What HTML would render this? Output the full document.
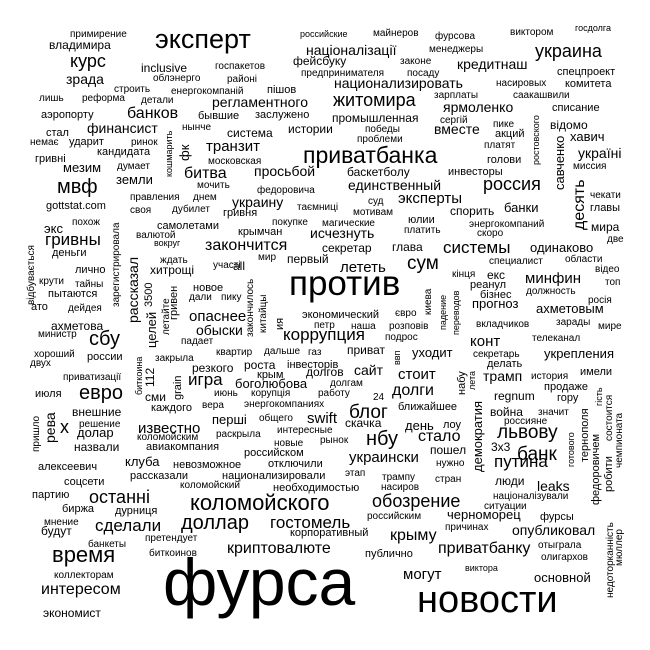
<!DOCTYPE html>
<html><head><meta charset="utf-8"><style>
html,body{margin:0;padding:0;background:#fff;}
svg{display:block;}
text{font-family:"Liberation Sans",Arial,sans-serif;fill:#000;}
</style></head><body>
<svg width="650" height="650" xmlns="http://www.w3.org/2000/svg">
<g>
<text x="70" y="37" font-size="10">примирение</text>
<text x="49" y="49" font-size="12">владимира</text>
<text x="155" y="48" font-size="27">эксперт</text>
<text x="70" y="67" font-size="18">курс</text>
<text x="141" y="72" font-size="12">inclusive</text>
<text x="215" y="69" font-size="10">госпакетов</text>
<text x="153" y="81" font-size="10">облэнерго</text>
<text x="227" y="82" font-size="10">районі</text>
<text x="66" y="84" font-size="14">зрада</text>
<text x="114" y="92" font-size="10">строить</text>
<text x="171" y="94" font-size="10">енергокомпаній</text>
<text x="267" y="93" font-size="11">пішов</text>
<text x="39" y="101" font-size="10">лишь</text>
<text x="82" y="101" font-size="10">реформа</text>
<text x="141" y="103" font-size="10">детали</text>
<text x="212" y="107" font-size="14">регламентного</text>
<text x="41" y="118" font-size="11">аэропорту</text>
<text x="127" y="118" font-size="16">банков</text>
<text x="198" y="119" font-size="11">бывшие</text>
<text x="255" y="118" font-size="11">заслужено</text>
<text x="46" y="136" font-size="11">стал</text>
<text x="87" y="133" font-size="14">финансист</text>
<text x="182" y="130" font-size="10">нынче</text>
<text x="227" y="137" font-size="12">система</text>
<text x="288" y="133" font-size="12">истории</text>
<text x="30" y="145" font-size="10">немає</text>
<text x="69" y="145" font-size="11">ударит</text>
<text x="131" y="145" font-size="10">ринок</text>
<text transform="translate(172,177) rotate(-90)" font-size="9">кошмарить</text>
<text transform="translate(189,161) rotate(-90)" font-size="13">фк</text>
<text x="206" y="151" font-size="15">транзит</text>
<text x="35" y="162" font-size="11">гривні</text>
<text x="97" y="155" font-size="11">кандидата</text>
<text x="208" y="164" font-size="10">московская</text>
<text x="303" y="163" font-size="23">приватбанка</text>
<text x="63" y="172" font-size="13">мезим</text>
<text x="117" y="169" font-size="10">думает</text>
<text x="184" y="178" font-size="16">битва</text>
<text x="254" y="176" font-size="14">просьбой</text>
<text x="57" y="193" font-size="20">мвф</text>
<text x="116" y="184" font-size="13">земли</text>
<text x="197" y="188" font-size="10">мочить</text>
<text x="257" y="193" font-size="10">федоровича</text>
<text x="130" y="200" font-size="10">правления</text>
<text x="193" y="200" font-size="10">днем</text>
<text x="232" y="207" font-size="14">украину</text>
<text x="46" y="209" font-size="11">gottstat.com</text>
<text x="130" y="213" font-size="10">своя</text>
<text x="172" y="212" font-size="10">дубилет</text>
<text x="223" y="216" font-size="11">гривня</text>
<text x="297" y="210" font-size="10">таємниці</text>
<text x="44" y="233" font-size="13">экс</text>
<text x="72" y="225" font-size="10">похож</text>
<text x="157" y="229" font-size="11">самолетами</text>
<text x="272" y="225" font-size="10">покупке</text>
<text x="322" y="226" font-size="10">магические</text>
<text x="45" y="245" font-size="17">гривны</text>
<text x="136" y="238" font-size="10">валютой</text>
<text x="238" y="235" font-size="11">крымчан</text>
<text x="310" y="238" font-size="14">исчезнуть</text>
<text x="154" y="246" font-size="9">вокруг</text>
<text x="205" y="250" font-size="16">закончится</text>
<text x="52" y="256" font-size="11">деньги</text>
<text x="160" y="263" font-size="10">ждать</text>
<text x="258" y="260" font-size="10">мир</text>
<text x="287" y="263" font-size="12">первый</text>
<text x="322" y="252" font-size="12">секретар</text>
<text x="75" y="273" font-size="11">лично</text>
<text x="150" y="274" font-size="12">хитрощі</text>
<text x="213" y="268" font-size="10">участі</text>
<text x="233" y="270" font-size="12">all</text>
<text x="39" y="284" font-size="10">крути</text>
<text x="75" y="287" font-size="10">тайны</text>
<text x="48" y="297" font-size="11">пытаются</text>
<text x="31" y="310" font-size="11">ато</text>
<text x="68" y="311" font-size="10">дейдея</text>
<text x="193" y="291" font-size="11">новое</text>
<text x="189" y="300" font-size="10">дали</text>
<text x="221" y="300" font-size="10">пику</text>
<text x="189" y="321" font-size="15">опаснее</text>
<text transform="translate(34,305) rotate(-90)" font-size="10">відбувається</text>
<text transform="translate(119,307) rotate(-90)" font-size="10">зарегистрировала</text>
<text transform="translate(138,323) rotate(-90)" font-size="14">рассказал</text>
<text transform="translate(152,307) rotate(-90)" font-size="11">3500</text>
<text transform="translate(156,348) rotate(-90)" font-size="13">целей</text>
<text transform="translate(169,335) rotate(-90)" font-size="10">летайте</text>
<text transform="translate(177,320) rotate(-90)" font-size="11">гривен</text>
<text transform="translate(253,337) rotate(-90)" font-size="10">закончилось</text>
<text transform="translate(266,333) rotate(-90)" font-size="10">китайцы</text>
<text transform="translate(283,330) rotate(-90)" font-size="11">ия</text>
<text x="289" y="295" font-size="35">против</text>

<text x="300" y="37" font-size="9">российские</text>
<text x="373" y="36" font-size="10">майнеров</text>
<text x="435" y="39" font-size="10">фурсова</text>
<text x="510" y="35" font-size="10">виктором</text>
<text x="575" y="31" font-size="9">госдолга</text>
<text x="306" y="55" font-size="14">націоналізації</text>
<text x="429" y="52" font-size="10">менеджеры</text>
<text x="535" y="57" font-size="18">украина</text>
<text x="293" y="65" font-size="12">фейсбуку</text>
<text x="400" y="64" font-size="10">законе</text>
<text x="457" y="69" font-size="14">кредитнаш</text>
<text x="301" y="76" font-size="10">предпринимателя</text>
<text x="407" y="76" font-size="10">посаду</text>
<text x="557" y="75" font-size="11">спецпроект</text>
<text x="334" y="88" font-size="14">национализировать</text>
<text x="496" y="86" font-size="10">насировых</text>
<text x="565" y="87" font-size="11">комитета</text>
<text x="333" y="106" font-size="18">житомира</text>
<text x="434" y="98" font-size="10">зарплаты</text>
<text x="513" y="98" font-size="10">саакашвили</text>
<text x="443" y="112" font-size="14">ярмоленко</text>
<text x="552" y="111" font-size="11">списание</text>
<text x="332" y="122" font-size="12">промышленная</text>
<text x="440" y="123" font-size="10">сергій</text>
<text x="493" y="127" font-size="10">пике</text>
<text transform="translate(539,165) rotate(-90)" font-size="9">ростовского</text>
<text x="550" y="129" font-size="12">відомо</text>
<text x="365" y="132" font-size="10">победы</text>
<text x="434" y="134" font-size="14">вместе</text>
<text x="495" y="137" font-size="11">акций</text>
<text x="357" y="142" font-size="10">проблеми</text>
<text x="570" y="141" font-size="13">хавич</text>
<text x="484" y="148" font-size="10">платят</text>
<text x="578" y="158" font-size="14">україні</text>
<text x="487" y="163" font-size="11">голови</text>
<text transform="translate(564,190) rotate(-90)" font-size="13">савченко</text>
<text x="573" y="169" font-size="10">миссия</text>
<text x="347" y="176" font-size="12">баскетболу</text>
<text x="448" y="175" font-size="11">инвесторы</text>
<text x="348" y="190" font-size="14">единственный</text>
<text x="483" y="190" font-size="18">россия</text>
<text transform="translate(584,230) rotate(-90)" font-size="16">десять</text>
<text x="590" y="198" font-size="10">чекати</text>
<text x="368" y="204" font-size="10">суд</text>
<text x="398" y="203" font-size="15">эксперты</text>
<text x="353" y="215" font-size="10">мотивам</text>
<text x="450" y="215" font-size="12">спорить</text>
<text x="504" y="212" font-size="13">банки</text>
<text x="590" y="211" font-size="11">главы</text>
<text x="408" y="223" font-size="11">юлии</text>
<text x="469" y="227" font-size="10">энергокомпаний</text>
<text x="591" y="231" font-size="12">мира</text>
<text x="404" y="233" font-size="10">платить</text>
<text x="477" y="236" font-size="10">скоро</text>
<text x="607" y="242" font-size="10">две</text>
<text x="392" y="251" font-size="12">глава</text>
<text x="443" y="253" font-size="17">системы</text>
<text x="530" y="252" font-size="13">одинаково</text>
<text x="407" y="269" font-size="19">сум</text>
<text x="340" y="272" font-size="15">лететь</text>
<text x="489" y="264" font-size="10">специалист</text>
<text x="565" y="262" font-size="10">области</text>
<text x="452" y="277" font-size="10">кінця</text>
<text x="487" y="279" font-size="12">екс</text>
<text x="595" y="272" font-size="10">відео</text>
<text x="525" y="283" font-size="15">минфин</text>
<text x="470" y="288" font-size="11">реанул</text>
<text x="605" y="285" font-size="10">топ</text>
<text x="480" y="298" font-size="11">бізнес</text>
<text x="526" y="294" font-size="10">должность</text>
<text x="472" y="308" font-size="13">прогноз</text>
<text x="588" y="303" font-size="10">росія</text>
<text x="536" y="313" font-size="13">ахметовым</text>
<text x="556" y="325" font-size="10">зарады</text>
<text transform="translate(431,315) rotate(-90)" font-size="10">киева</text>
<text transform="translate(446,330) rotate(-90)" font-size="9">падение</text>
<text transform="translate(459,335) rotate(-90)" font-size="9">переводов</text>
<text x="476" y="327" font-size="10">вкладчиков</text>
<text x="598" y="329" font-size="10">мире</text>
<text x="302" y="318" font-size="11">экономический</text>
<text x="395" y="316" font-size="10">євро</text>
<text x="314" y="328" font-size="10">петр</text>
<text x="351" y="329" font-size="10">наша</text>
<text x="389" y="329" font-size="10">розповів</text>
<text x="385" y="340" font-size="10">подрос</text>
<text x="283" y="340" font-size="17">коррупция</text>

<text x="51" y="330" font-size="12">ахметова</text>
<text x="38" y="337" font-size="10">министр</text>
<text x="89" y="345" font-size="20">сбу</text>
<text x="196" y="335" font-size="14">обыски</text>
<text x="181" y="344" font-size="10">падает</text>
<text x="34" y="357" font-size="10">хороший</text>
<text x="30" y="366" font-size="10">двух</text>
<text x="87" y="360" font-size="11">россии</text>
<text transform="translate(142,395) rotate(-90)" font-size="9">биткоина</text>
<text transform="translate(154,387) rotate(-90)" font-size="12">112</text>
<text x="155" y="361" font-size="10">закрыла</text>
<text x="216" y="355" font-size="10">квартир</text>
<text x="264" y="354" font-size="10">дальше</text>
<text x="308" y="355" font-size="10">газ</text>
<text x="347" y="354" font-size="12">приват</text>
<text transform="translate(400,365) rotate(-90)" font-size="9">ввп</text>
<text x="412" y="357" font-size="13">уходит</text>
<text x="470" y="346" font-size="15">конт</text>
<text x="532" y="341" font-size="10">телеканал</text>
<text x="63" y="380" font-size="10">приватизації</text>
<text transform="translate(181,400) rotate(-90)" font-size="11">grain</text>
<text x="192" y="372" font-size="12">резкого</text>
<text x="244" y="369" font-size="12">роста</text>
<text x="287" y="368" font-size="11">інвесторів</text>
<text x="473" y="357" font-size="10">секретарь</text>
<text x="544" y="358" font-size="13">укрепления</text>
<text x="487" y="367" font-size="11">делать</text>
<text x="188" y="385" font-size="17">игра</text>
<text x="257" y="378" font-size="11">крым</text>
<text x="306" y="376" font-size="12">долгов</text>
<text x="354" y="375" font-size="14">сайт</text>
<text x="398" y="379" font-size="15">стоит</text>
<text transform="translate(465,395) rotate(-90)" font-size="11">набу</text>
<text transform="translate(475,390) rotate(-90)" font-size="9">лета</text>
<text x="483" y="381" font-size="14">трамп</text>
<text x="531" y="379" font-size="10">история</text>
<text x="580" y="375" font-size="11">имели</text>
<text x="35" y="397" font-size="11">июля</text>
<text x="79" y="399" font-size="20">евро</text>
<text x="235" y="388" font-size="13">боголюбова</text>
<text x="330" y="386" font-size="10">долгам</text>
<text x="544" y="390" font-size="11">продаже</text>
<text x="392" y="395" font-size="16">долги</text>
<text x="145" y="401" font-size="12">сми</text>
<text x="214" y="396" font-size="10">июнь</text>
<text x="251" y="396" font-size="10">корупція</text>
<text x="318" y="396" font-size="10">работу</text>
<text x="373" y="400" font-size="10">24</text>
<text x="494" y="400" font-size="12">regnum</text>
<text x="557" y="401" font-size="11">гору</text>
<text x="202" y="408" font-size="10">вера</text>
<text x="244" y="407" font-size="10">энергокомпаниях</text>
<text x="151" y="411" font-size="11">каждого</text>
<text x="398" y="410" font-size="11">ближайшее</text>
<text x="349" y="418" font-size="19">блог</text>
<text x="72" y="416" font-size="12">внешние</text>
<text x="490" y="416" font-size="12">война</text>
<text x="538" y="415" font-size="10">значит</text>
<text x="212" y="424" font-size="13">перші</text>
<text x="259" y="421" font-size="10">общего</text>
<text x="307" y="423" font-size="15">swift</text>
<text x="345" y="427" font-size="12">скачка</text>
<text x="504" y="424" font-size="10">россияне</text>
<text transform="translate(39,452) rotate(-90)" font-size="10">пришло</text>
<text transform="translate(55,443) rotate(-90)" font-size="14">рева</text>
<text x="60" y="433" font-size="18">х</text>
<text x="79" y="427" font-size="10">решение</text>
<text x="138" y="433" font-size="15">известно</text>
<text x="277" y="433" font-size="10">интересные</text>
<text x="405" y="430" font-size="13">день</text>
<text x="443" y="428" font-size="11">лоу</text>
<text transform="translate(482,472) rotate(-90)" font-size="13">демократия</text>
<text x="497" y="438" font-size="19">львову</text>
<text x="77" y="437" font-size="13">долар</text>
<text x="137" y="440" font-size="10">коломойским</text>
<text x="216" y="437" font-size="10">раскрыла</text>
<text x="366" y="445" font-size="20">нбу</text>
<text x="320" y="443" font-size="10">рынок</text>
<text x="418" y="441" font-size="16">стало</text>
<text transform="translate(574,467) rotate(-90)" font-size="9">готового</text>
<text transform="translate(588,462) rotate(-90)" font-size="11">тернополя</text>
<text transform="translate(602,406) rotate(-90)" font-size="9">гість</text>
<text transform="translate(612,441) rotate(-90)" font-size="10">состоится</text>
<text transform="translate(622,468) rotate(-90)" font-size="10">чемпионата</text>
<text x="274" y="446" font-size="10">новые</text>
<text x="74" y="451" font-size="12">назвали</text>
<text x="146" y="450" font-size="11">авиакомпания</text>
<text x="244" y="456" font-size="11">российском</text>
<text x="430" y="454" font-size="12">пошел</text>
<text x="491" y="451" font-size="12">3x3</text>
<text x="517" y="460" font-size="19">банк</text>
<text x="349" y="462" font-size="15">украински</text>
<text x="125" y="466" font-size="13">клуба</text>
<text x="173" y="468" font-size="11">невозможное</text>
<text x="268" y="467" font-size="11">отключили</text>
<text x="436" y="466" font-size="10">нужно</text>
<text x="494" y="467" font-size="17">путина</text>
<text transform="translate(599,505) rotate(-90)" font-size="11">федоровичем</text>
<text transform="translate(612,492) rotate(-90)" font-size="11">робити</text>
<text x="38" y="470" font-size="11">алексеевич</text>
<text x="130" y="479" font-size="11">рассказали</text>
<text x="222" y="479" font-size="11">национализировали</text>
<text x="345" y="476" font-size="10">этап</text>
<text x="382" y="480" font-size="10">трампу</text>
<text x="435" y="482" font-size="10">стран</text>
<text x="64" y="485" font-size="11">соцсети</text>
<text x="180" y="488" font-size="10">коломойский</text>
<text x="273" y="491" font-size="11">необходимостью</text>
<text x="381" y="490" font-size="10">насиров</text>
<text x="495" y="485" font-size="12">люди</text>
<text x="537" y="491" font-size="14">leaks</text>
<text x="32" y="498" font-size="11">партию</text>
<text x="89" y="503" font-size="18">останні</text>
<text x="190" y="510" font-size="22">коломойского</text>
<text x="372" y="507" font-size="18">обозрение</text>
<text x="493" y="499" font-size="10">націоналізували</text>
<text x="484" y="509" font-size="10">ситуации</text>
<text x="62" y="512" font-size="11">биржа</text>
<text x="115" y="514" font-size="11">дурниця</text>
<text x="95" y="531" font-size="17">сделали</text>
<text x="181" y="529" font-size="20">доллар</text>
<text x="270" y="528" font-size="17">гостомель</text>
<text x="44" y="525" font-size="10">мнение</text>
<text x="41" y="535" font-size="12">будут</text>
<text x="367" y="519" font-size="10">российским</text>
<text x="447" y="519" font-size="13">черноморец</text>
<text x="540" y="520" font-size="11">фурсы</text>
<text x="290" y="536" font-size="11">корпоративный</text>
<text x="445" y="530" font-size="10">причинах</text>
<text x="512" y="535" font-size="14">опубликовал</text>
<text x="390" y="540" font-size="16">крыму</text>
<text transform="translate(613,598) rotate(-90)" font-size="10">недоторканність</text>
<text transform="translate(622,566) rotate(-90)" font-size="10">мюллер</text>
<text x="145" y="541" font-size="10">претендует</text>
<text x="88" y="547" font-size="10">банкеты</text>
<text x="52" y="562" font-size="22">время</text>
<text x="227" y="553" font-size="16">криптовалюте</text>
<text x="438" y="553" font-size="16">приватбанку</text>
<text x="538" y="548" font-size="10">отыграла</text>
<text x="365" y="557" font-size="11">публично</text>
<text x="149" y="556" font-size="10">биткоинов</text>
<text x="541" y="560" font-size="10">олигархов</text>
<text x="54" y="578" font-size="10">коллекторам</text>
<text x="465" y="571" font-size="9">виктора</text>
<text x="403" y="579" font-size="15">могут</text>
<text x="534" y="582" font-size="13">основной</text>
<text x="41" y="594" font-size="16">интересом</text>
<text x="163" y="605" font-size="66">фурса</text>
<text x="417" y="612" font-size="38">новости</text>
<text x="43" y="617" font-size="12">экономист</text>
</g>
</svg>
</body></html>
